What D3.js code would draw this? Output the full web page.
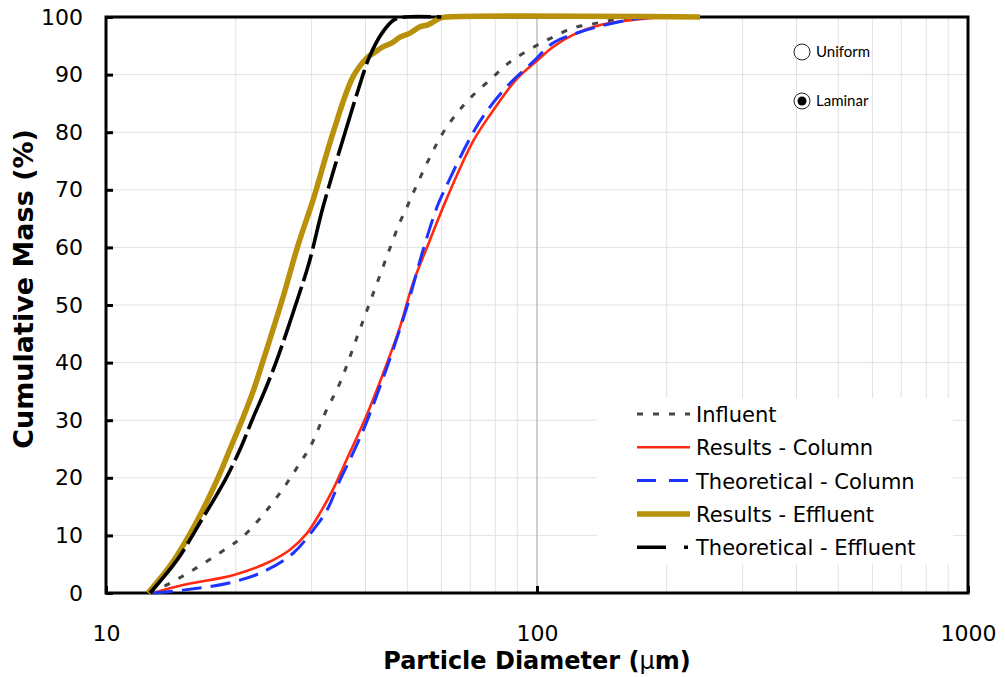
<!DOCTYPE html>
<html>
<head>
<meta charset="utf-8">
<script src="https://cdn.jsdelivr.net/npm/d3@7"></script>
<style>
  html, body { margin: 0; padding: 0; background: #fff; }
  svg { display: block; }
  text { font-family: "DejaVu Sans", Verdana, sans-serif; fill: #000; }
</style>
</head>
<body>
<svg id="chart" width="1005" height="677"></svg>
<script>
// Particle size distributions: [diameter (µm), cumulative mass (%)]
const influent = [
  [12.65, 0], [14.08, 1.7], [15.92, 4], [19.09, 7.8], [20.79, 9.8], [23.63, 14.4],
  [26.30, 19.1], [28.19, 22.6], [29.74, 25.3], [32.22, 31.2], [34.91, 36.5],
  [38.22, 44.4], [40.32, 49.1], [42.54, 53.8], [45.60, 59.9], [48.10, 64.4],
  [49.93, 67], [51.56, 69.4], [56.46, 75.7], [60.52, 79.9], [65.22, 83.3],
  [69.91, 85.9], [77.80, 89.1], [86.59, 92.2], [100, 95.1], [108.9, 96.5],
  [121.2, 98.1], [134.9, 98.8], [150.1, 99.5], [167.0, 99.8], [182.9, 100]
];
const resultsColumn = [
  [12.85, 0], [15.09, 1.4], [19.71, 3.1], [23.63, 5.2], [26.73, 7.5], [29.27, 10.4],
  [31.38, 13.9], [33.63, 18.0], [36.24, 23.3], [40.32, 31.0],
  [44.87, 39.9], [48.10, 46.2], [51.56, 53.8], [56.46, 61.3], [61.83, 68.6],
  [71.04, 78.4], [77.80, 83.0], [89.87, 89.3], [100, 92.4], [108.9, 94.8],
  [121.2, 96.9], [140.0, 98.6], [167.0, 99.5], [182.9, 99.8], [238.9, 100]
];
const theoreticalColumn = [
  [12.85, 0], [15.09, 0.5], [19.71, 1.9], [23.63, 4], [27.16, 6.9], [30.22, 10.9],
  [32.57, 14.4], [34.91, 19.6], [37.42, 24.3], [39.90, 29], [44.87, 39.2],
  [49.93, 49.7], [54.39, 59.5], [58.61, 67], [60.52, 69.4], [71.04, 79.9],
  [77.80, 84.4], [86.59, 88.5], [97.88, 92.2], [108.9, 95.5], [125.8, 97.4],
  [153.4, 99.1], [173.4, 99.8], [192.9, 100]
];
const resultsEffluent = [
  [12.51, 0], [14.23, 5.2], [16.18, 12.2], [18.19, 20], [19.40, 25], [20.68, 30],
  [21.94, 35], [23.76, 43], [25.75, 51.4], [27.90, 60.4], [30.22, 68.2],
  [33.63, 79.9], [37.42, 89.6], [40.32, 92.9], [42.08, 93.9], [43.92, 94.8],
  [46.09, 95.5], [48.10, 96.5], [50.75, 97.2], [53.52, 98.3], [55.57, 98.6],
  [57.37, 99.1], [59.56, 99.8], [62.0, 100], [238.9, 100]
];
const theoreticalEffluent = [
  [12.65, 0], [14.61, 5.7], [16.52, 12.2], [18.89, 19.6], [20.57, 25.3], [21.82, 30],
  [23.38, 35.2], [24.93, 40.5], [27.45, 49.7], [29.58, 57.3], [31.88, 67],
  [35.85, 79.9], [38.64, 87.8], [40.76, 92.9], [43.69, 97.2], [46.57, 99.5],
  [49.40, 100], [60.0, 100]
];

const seriesNames = ["Influent", "Results - Column", "Theoretical - Column",
                     "Results - Effluent", "Theoretical - Effluent"];
const xMajorTicks = [10, 100, 1000];
const xGridTicks = [20, 30, 40, 50, 60, 70, 80, 90, 200, 300, 400, 500, 600, 700, 800, 900];
const yTicks = [0, 10, 20, 30, 40, 50, 60, 70, 80, 90, 100];
const flowOptions = ["Uniform", "Laminar"];
const selectedFlow = "Laminar";

const svg = d3.select("#chart");
const plotLeft = 106, plotRight = 968, plotTop = 17, plotBottom = 593;

const x = d3.scaleLog().domain([10, 1000]).range([plotLeft, plotRight]);
const y = d3.scaleLinear().domain([0, 100]).range([plotBottom, plotTop]);

// grid
const grid = svg.append("g");
grid.selectAll(".gx").data(xGridTicks).join("line")
  .attr("x1", d => x(d)).attr("x2", d => x(d))
  .attr("y1", plotTop).attr("y2", plotBottom)
  .attr("stroke", "#e1e1e1").attr("stroke-width", 1);
grid.selectAll(".gy").data(yTicks.slice(1, -1)).join("line")
  .attr("x1", plotLeft).attr("x2", plotRight)
  .attr("y1", d => y(d)).attr("y2", d => y(d))
  .attr("stroke", "#e1e1e1").attr("stroke-width", 1);
grid.append("line")
  .attr("x1", x(100)).attr("x2", x(100))
  .attr("y1", plotTop).attr("y2", plotBottom)
  .attr("stroke", "#b5b5b5").attr("stroke-width", 1.3);

// legend box (white, covers the grid)
const lg = svg.append("g");
lg.append("rect").attr("x", 597).attr("y", 398).attr("width", 356).attr("height", 166)
  .attr("fill", "#fff");

// radio buttons
const radio = svg.append("g");
flowOptions.forEach((name, i) => {
  const cy = 52 + i * 49;
  radio.append("circle").attr("cx", 802).attr("cy", cy).attr("r", 8)
    .attr("fill", "#fff").attr("stroke", "#222").attr("stroke-width", 1);
  if (name === selectedFlow) {
    radio.append("circle").attr("cx", 802).attr("cy", cy).attr("r", 4.5).attr("fill", "#000");
  }
  radio.append("text").attr("x", 816).attr("y", cy + 5)
    .style("font-family", "Lato, 'Open Sans', sans-serif").style("font-size", "15px")
    .text(name);
});

// frame
svg.append("rect").attr("x", plotLeft).attr("y", plotTop)
  .attr("width", plotRight - plotLeft).attr("height", plotBottom - plotTop)
  .attr("fill", "none").attr("stroke", "#000").attr("stroke-width", 3);

// axes
const yAxis = svg.append("g").attr("transform", `translate(${plotLeft},0)`)
  .call(d3.axisLeft(y).tickValues(yTicks).tickSize(-7).tickPadding(23).tickFormat(d3.format("d")));
const xAxis = svg.append("g").attr("transform", `translate(0,${plotBottom})`)
  .call(d3.axisBottom(x).tickValues(xMajorTicks).tickSize(-7).tickFormat(d3.format("d")));
[yAxis, xAxis].forEach(g => {
  g.select(".domain").remove();
  g.selectAll(".tick line").attr("stroke", "#000").attr("stroke-width", 3);
  g.selectAll(".tick text").style("font-family", "'DejaVu Sans', Verdana, sans-serif")
    .style("font-size", "22px").attr("fill", "#000");
});
xAxis.selectAll(".tick text").attr("y", 48).attr("dy", 0);

// axis titles
const xTitle = svg.append("text").attr("x", 537).attr("y", 669).attr("text-anchor", "middle")
  .style("font-size", "24px").style("font-weight", "bold");
xTitle.append("tspan").text("Particle Diameter (");
xTitle.append("tspan").style("font-weight", "normal").text("μ");
xTitle.append("tspan").text("m)");
svg.append("text").attr("transform", "translate(33,289) rotate(-90)")
  .attr("text-anchor", "middle")
  .style("font-size", "27px").style("font-weight", "bold")
  .text("Cumulative Mass (%)");

// curves
const line = d3.line().x(d => x(d[0])).y(d => y(d[1])).curve(d3.curveCatmullRom.alpha(0.5));
const styles = [
  { data: influent, color: "#444444", width: 3, dash: "6,10", legendDash: "6,10" },
  { data: resultsColumn, color: "#ff2a10", width: 2.6, dash: null, legendDash: null },
  { data: theoreticalColumn, color: "#1d33ff", width: 3, dash: "20,9", legendDash: "19,13" },
  { data: resultsEffluent, color: "#b8900a", width: 5.5, dash: null, legendDash: null },
  { data: theoreticalEffluent, color: "#000000", width: 3.6, dash: "56,6,28,6", legendDash: "29,18,4,10" }
];
const curves = svg.append("g");
styles.forEach(s => {
  curves.append("path").datum(s.data).attr("d", line)
    .attr("fill", "none").attr("stroke", s.color).attr("stroke-width", s.width)
    .attr("stroke-linejoin", "round")
    .attr("stroke-dasharray", s.dash);
});

// legend entries
seriesNames.forEach((name, i) => {
  const s = styles[i];
  const ly = 414 + i * 33.3;
  lg.append("line").attr("x1", 637).attr("x2", 690).attr("y1", ly).attr("y2", ly)
    .attr("stroke", s.color).attr("stroke-width", s.width)
    .attr("stroke-dasharray", s.legendDash);
  lg.append("text").attr("x", 696).attr("y", ly + 8)
    .style("font-size", "21px").text(name);
});
svg.node().appendChild(lg.node());
</script>
</body>
</html>
